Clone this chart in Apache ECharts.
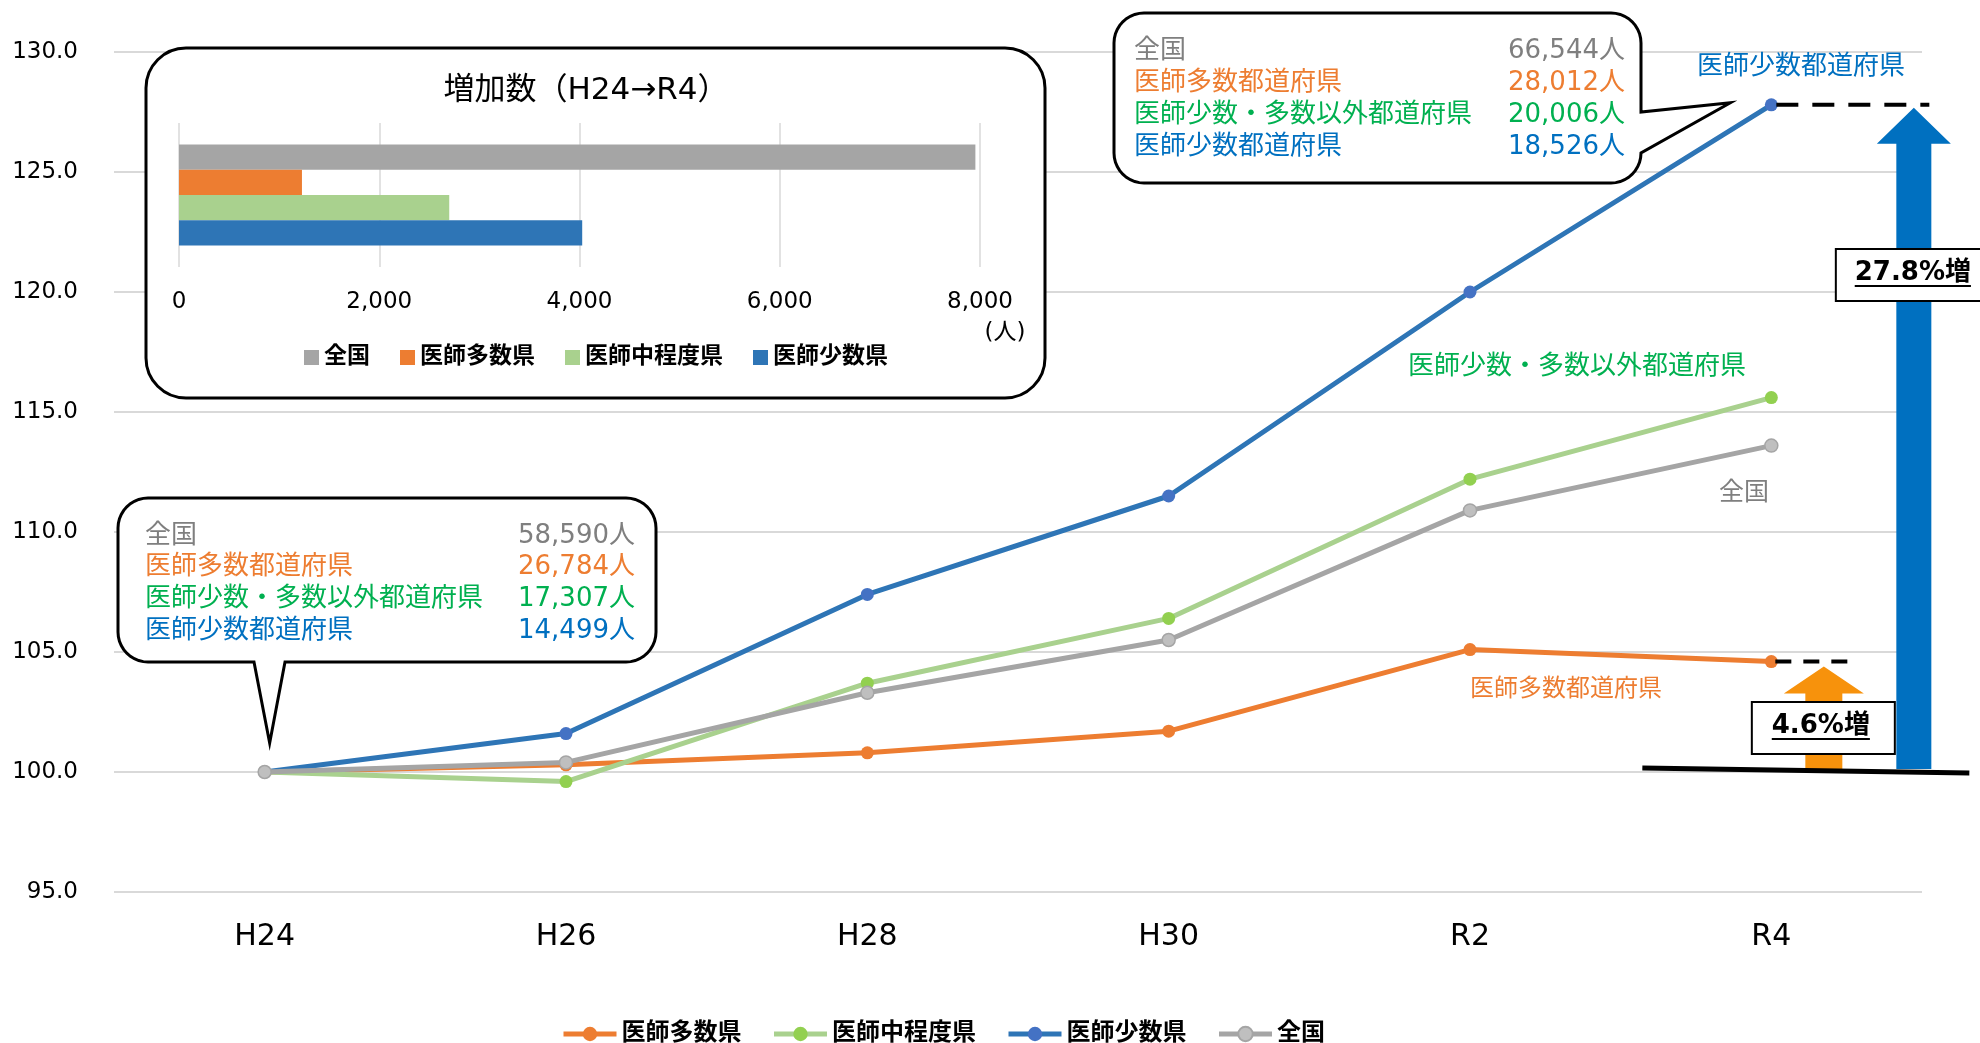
<!DOCTYPE html>
<html>
<head>
<meta charset="utf-8">
<script src="https://cdn.jsdelivr.net/npm/echarts@6/dist/echarts.min.js"></script>
<style>
html,body{margin:0;padding:0;background:#fff;}
#c{width:1980px;height:1043px;}
</style>
</head>
<body>
<div id="c"></div>
<script>
// ---- data ----
const categories = ['H24', 'H26', 'H28', 'H30', 'R2', 'R4'];
const lineNames = ['医師多数県', '医師中程度県', '医師少数県', '全国'];
const manyValues = [100, 100.3, 100.8, 101.7, 105.1, 104.6];
const midValues = [100, 99.6, 103.7, 106.4, 112.2, 115.6];
const fewValues = [100, 101.6, 107.4, 111.5, 120.0, 127.8];
const nationalValues = [100, 100.4, 103.3, 105.5, 110.9, 113.6];
const yMin = 95, yMax = 130, yInterval = 5;

const increaseTitle = '増加数（H24→R4）';
const increaseNames = ['全国', '医師多数県', '医師中程度県', '医師少数県'];
const increaseValues = [7954, 1228, 2699, 4027];
const incMin = 0, incMax = 8000, incInterval = 2000;
const incUnit = '(人)';

const countLabels = ['全国', '医師多数都道府県', '医師少数・多数以外都道府県', '医師少数都道府県'];
const countH24 = ['58,590人', '26,784人', '17,307人', '14,499人'];
const countR4 = ['66,544人', '28,012人', '20,006人', '18,526人'];
const pctMany = '4.6%増';
const pctFew = '27.8%増';

// ---- styles ----
const FONT = "'DejaVu Sans', 'Noto Sans CJK JP', sans-serif";
const lineColors = ['#ED7D31', '#A9D18E', '#2E75B6', '#A5A5A5'];
const markerColors = ['#ED7D31', '#92D050', '#4472C4', '#BFBFBF'];
const barColors = ['#A5A5A5', '#ED7D31', '#A9D18E', '#2E75B6'];
const textColors = ['#7F7F7F', '#ED7D31', '#00B050', '#0070C0'];
const lineData = [manyValues, midValues, fewValues, nationalValues];

const lineSeries = lineNames.map((n, i) => ({
  type: 'line', name: n, data: lineData[i],
  xAxisIndex: 0, yAxisIndex: 0,
  symbol: 'circle', symbolSize: 13,
  lineStyle: { width: 5, color: lineColors[i] },
  itemStyle: { color: markerColors[i], borderColor: i === 3 ? '#A5A5A5' : markerColors[i], borderWidth: i === 3 ? 1.5 : 0 },
  emphasis: { disabled: true }, silent: true, z: 2
}));

const barSeries = increaseNames.map((n, i) => ({
  type: 'bar', name: 'inc-' + n, data: [increaseValues[i]],
  xAxisIndex: 1, yAxisIndex: 1,
  barGap: '0%', barCategoryGap: '30%',
  itemStyle: { color: barColors[i] },
  emphasis: { disabled: true }, silent: true, z: 4
}));

const option = {
  animation: false,
  backgroundColor: '#fff',
  textStyle: { fontFamily: FONT },
  grid: [
    { left: 114, right: 58, top: 52, bottom: 151, outerBoundsMode: 'none' },
    { left: 179, top: 123, width: 801, height: 144, outerBoundsMode: 'none' }
  ],
  xAxis: [
    { type: 'category', gridIndex: 0, data: categories, boundaryGap: true,
      axisLine: { show: false }, axisTick: { show: false },
      axisLabel: { fontSize: 30, margin: 30, color: '#000', fontFamily: FONT } },
    { type: 'value', gridIndex: 1, min: incMin, max: incMax, interval: incInterval, z: 3,
      axisLine: { show: false }, axisTick: { show: false },
      splitLine: { show: true, lineStyle: { color: '#D9D9D9', width: 1.5 } },
      axisLabel: { fontSize: 23, margin: 24, color: '#000', fontFamily: FONT,
        formatter: v => v.toLocaleString('en-US') } }
  ],
  yAxis: [
    { type: 'value', gridIndex: 0, min: yMin, max: yMax, interval: yInterval,
      axisLine: { show: false }, axisTick: { show: false },
      splitLine: { show: true, lineStyle: { color: '#D9D9D9', width: 2 } },
      axisLabel: { fontSize: 23, margin: 36, color: '#000', fontFamily: FONT,
        formatter: v => v.toFixed(1) } },
    { type: 'category', gridIndex: 1, data: ['増加数'], inverse: true, z: 3,
      axisLine: { show: false }, axisTick: { show: false }, axisLabel: { show: false },
      splitLine: { show: false } }
  ],
  legend: [
    { data: lineNames, left: 556, top: 1017, itemWidth: 53, itemHeight: 18, itemGap: 30,
      selectedMode: false, lineStyle: { width: 5 },
      textStyle: { fontSize: 24, fontWeight: 'bold', color: '#000', fontFamily: FONT } },
    { data: increaseNames.map(n => 'inc-' + n), left: 299, top: 341, itemWidth: 15, itemHeight: 15,
      itemGap: 30, icon: 'rect', selectedMode: false, z: 5,
      formatter: n => n.replace('inc-', ''),
      textStyle: { fontSize: 23, fontWeight: 'bold', color: '#000', fontFamily: FONT } }
  ],
  series: lineSeries.concat(barSeries)
};

const chart = echarts.init(document.getElementById('c'), null, { renderer: 'canvas' });
chart.setOption(option);

// ---- annotations computed from the axes ----
const px = (i, v) => chart.convertToPixel({ gridIndex: 0 }, [i, v]);
const last = categories.length - 1;
const pFew = px(last, fewValues[last]);
const pMany = px(last, manyValues[last]);
const p100 = px(last, 100);
const pStart = px(0, manyValues[0]);
const y100 = p100[1];

const measure = (() => {
  const ctx = document.createElement('canvas').getContext('2d');
  return (t, font) => { ctx.font = font; return ctx.measureText(t).width; };
})();

function arcPts(cx, cy, r, a0, a1) {
  const pts = [];
  const n = 10;
  for (let k = 0; k <= n; k++) {
    const a = (a0 + (a1 - a0) * k / n) * Math.PI / 180;
    pts.push([cx + r * Math.cos(a), cy + r * Math.sin(a)]);
  }
  return pts;
}
function callout(x1, y1, x2, y2, r, tailRight, tailBottom) {
  let pts = [];
  pts = pts.concat(arcPts(x2 - r, y1 + r, r, -90, 0));
  if (tailRight) pts = pts.concat(tailRight);
  pts = pts.concat(arcPts(x2 - r, y2 - r, r, 0, 90));
  if (tailBottom) pts = pts.concat(tailBottom);
  pts = pts.concat(arcPts(x1 + r, y2 - r, r, 90, 180));
  pts = pts.concat(arcPts(x1 + r, y1 + r, r, 180, 270));
  return pts;
}

const els = [];
// inset box
els.push({ type: 'rect', z: 1, silent: true,
  shape: { x: 146, y: 48, width: 899, height: 350, r: 40 },
  style: { fill: '#fff', stroke: '#000', lineWidth: 3 } });
els.push({ type: 'text', z: 5, silent: true,
  style: { text: increaseTitle, x: 586, y: 91, fill: '#000', font: "31px " + FONT,
    textAlign: 'center', align: 'center', textVerticalAlign: 'middle', verticalAlign: 'middle' } });
els.push({ type: 'text', z: 5, silent: true,
  style: { text: incUnit, x: 1005, y: 333, fill: '#000', font: "23px " + FONT,
    textAlign: 'center', align: 'center', textVerticalAlign: 'middle', verticalAlign: 'middle' } });

// callout 1 (H24)
const tip1 = [pStart[0] + 5, pStart[1] - 29];
els.push({ type: 'polygon', z: 10, silent: true,
  shape: { points: callout(118, 498, 656, 662, 30, null, [[285, 662], tip1, [254, 662]]) },
  style: { fill: '#fff', stroke: '#000', lineWidth: 3 } });
// callout 2 (R4)
const tip2 = [pFew[0] - 41, pFew[1] - 2];
els.push({ type: 'polygon', z: 10, silent: true,
  shape: { points: callout(1114, 13, 1641, 183, 30, [[1641, 112], tip2, [1641, 153]], null) },
  style: { fill: '#fff', stroke: '#000', lineWidth: 3 } });

const cFont = "26px " + FONT;
function rows(xl, xr, y0, step, values) {
  countLabels.forEach((t, i) => {
    const y = y0 + step * i;
    els.push({ type: 'text', z: 11, silent: true,
      style: { text: t, x: xl, y: y, fill: textColors[i], font: cFont,
        textAlign: 'left', align: 'left', textVerticalAlign: 'middle', verticalAlign: 'middle' } });
    els.push({ type: 'text', z: 11, silent: true,
      style: { text: values[i], x: xr, y: y, fill: textColors[i], font: cFont,
        textAlign: 'right', align: 'right', textVerticalAlign: 'middle', verticalAlign: 'middle' } });
  });
}
rows(145, 635, 536, 31.7, countH24);
rows(1134, 1625, 51, 32, countR4);

// series labels near lines
const seriesLabels = [
  { t: countLabels[3], x: 1801, y: 67, c: textColors[3], f: 26 },
  { t: countLabels[2], x: 1577, y: 367, c: textColors[2], f: 26 },
  { t: countLabels[0], x: 1744, y: 493, c: textColors[0], f: 25 },
  { t: countLabels[1], x: 1566, y: 690, c: textColors[1], f: 24 }
];
seriesLabels.forEach(s => els.push({ type: 'text', z: 11, silent: true,
  style: { text: s.t, x: s.x, y: s.y, fill: s.c, font: s.f + "px " + FONT,
    textAlign: 'center', align: 'center', textVerticalAlign: 'middle', verticalAlign: 'middle' } }));

// dashed level lines
els.push({ type: 'line', z: 9, silent: true,
  shape: { x1: pFew[0] + 5, y1: pFew[1], x2: pFew[0] + 158, y2: pFew[1] },
  style: { stroke: '#000', lineWidth: 4, lineDash: [22, 14] } });
els.push({ type: 'line', z: 9, silent: true,
  shape: { x1: pMany[0] + 4, y1: pMany[1], x2: pMany[0] + 78, y2: pMany[1] },
  style: { stroke: '#000', lineWidth: 4, lineDash: [16, 12] } });

// arrows
function arrow(cx, tipY, headH, headHalf, shaftHalf, bottomY) {
  const hb = tipY + headH;
  return [[cx - shaftHalf, bottomY], [cx - shaftHalf, hb], [cx - headHalf, hb], [cx, tipY],
          [cx + headHalf, hb], [cx + shaftHalf, hb], [cx + shaftHalf, bottomY]];
}
const fewArrowX = pFew[0] + 142.5;
const manyArrowX = pMany[0] + 52.5;
els.push({ type: 'polygon', z: 9, silent: true,
  shape: { points: arrow(fewArrowX, pFew[1] + 3, 36, 37, 17.5, y100 - 3) },
  style: { fill: '#0070C0' } });
els.push({ type: 'polygon', z: 9, silent: true,
  shape: { points: arrow(manyArrowX, pMany[1] + 5, 27, 40, 18.5, y100 - 3) },
  style: { fill: '#F7920C' } });

// base line at 100
els.push({ type: 'line', z: 12, silent: true,
  shape: { x1: p100[0] - 129, y1: y100 - 4, x2: p100[0] + 198, y2: y100 + 1 },
  style: { stroke: '#000', lineWidth: 5 } });

// percent boxes
const pFont = "bold 26px " + FONT;
function pctBox(bx, by, bw, bh, text, cx) {
  els.push({ type: 'rect', z: 13, silent: true,
    shape: { x: bx, y: by, width: bw, height: bh },
    style: { fill: '#fff', stroke: '#000', lineWidth: 2 } });
  const cy = by + bh / 2 - 2;
  els.push({ type: 'text', z: 14, silent: true,
    style: { text: text, x: cx, y: cy, fill: '#000', font: pFont,
      textAlign: 'center', align: 'center', textVerticalAlign: 'middle', verticalAlign: 'middle' } });
  const w = measure(text, pFont);
  els.push({ type: 'line', z: 14, silent: true,
    shape: { x1: cx - w / 2, y1: cy + 13, x2: cx + w / 2, y2: cy + 13 },
    style: { stroke: '#000', lineWidth: 2 } });
}
pctBox(manyArrowX - 72, 702, 143, 52, pctMany, manyArrowX - 3);
pctBox(fewArrowX - 78, 249, 170, 52, pctFew, fewArrowX - 1);

chart.setOption({ graphic: { elements: els } });
</script>
</body>
</html>
